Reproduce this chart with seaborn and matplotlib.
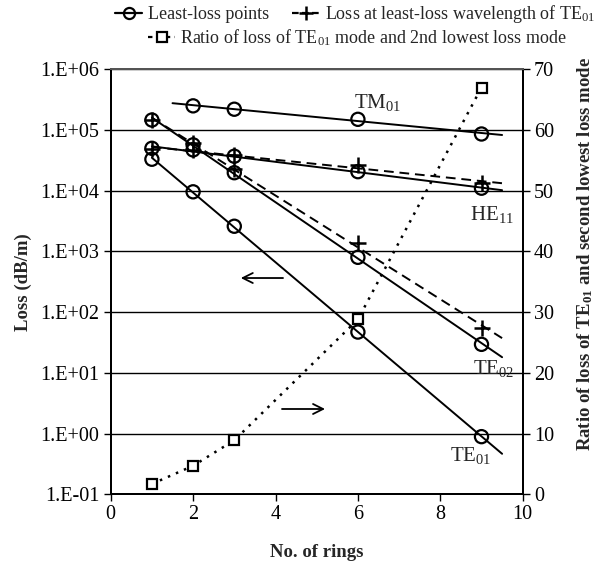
import numpy as np
import pandas as pd
import matplotlib
matplotlib.use("Agg")
import matplotlib.pyplot as plt
import seaborn as sns
from matplotlib.lines import Line2D
from matplotlib.ticker import FixedLocator, FixedFormatter, NullLocator

# ---------------- data ----------------
rings = [1, 2, 3, 6, 9]
tm01_rings = [2, 3, 6, 9]
tm01_loss = [2.5e5, 2.2e5, 1.5e5, 8.6e4]
he11_loss = [5.0e4, 4.7e4, 3.7e4, 2.06e4, 1.1e4]
te02_loss = [1.46e5, 5.7e4, 1.98e4, 800, 29.5]
te01_loss = [3.3e4, 9.6e3, 2.6e3, 47, 0.89]
te01wl_upper = [4.8e4, 4.6e4, 3.9e4, 2.65e4, 1.32e4]
te01wl_lower = [1.46e5, 6.0e4, 2.3e4, 1.36e3, 55]
ratio = [1.7, 4.7, 8.9, 28.8, 67.0]

left_ticks = [1e-1, 1e0, 1e1, 1e2, 1e3, 1e4, 1e5, 1e6]
left_labels = ["1.E-01", "1.E+00", "1.E+01", "1.E+02", "1.E+03", "1.E+04", "1.E+05", "1.E+06"]
right_ticks = [0, 10, 20, 30, 40, 50, 60, 70]
x_ticks = [0, 2, 4, 6, 8, 10]

# ---------------- style ----------------
sns.set_theme(style="ticks")
plt.rcParams["font.family"] = ["Liberation Serif", "DejaVu Serif"]
plt.rcParams["mathtext.fontset"] = "custom"
plt.rcParams["mathtext.rm"] = "Liberation Serif"
plt.rcParams["mathtext.it"] = "Liberation Serif"
plt.rcParams["mathtext.bf"] = "Liberation Serif:bold"

fig = plt.figure(figsize=(6.02, 5.61), dpi=100)
ax = fig.add_axes([110.7 / 602, 1 - 494.3 / 561, 412 / 602, 425 / 561])
ax2 = ax.twinx()


def trend(x, y, x0, x1):
    k, b = np.polyfit(x, np.log10(y), 1)
    xs = np.linspace(x0, x1, 60)
    return xs, 10 ** (k * xs + b)


# trendlines (solid) for least-loss points
for xs_, ys_, x0 in [(tm01_rings, tm01_loss, 1.5), (rings, he11_loss, 1.0),
                     (rings, te02_loss, 1.0), (rings, te01_loss, 1.0)]:
    tx, ty = trend(xs_, ys_, x0, 9.5)
    sns.lineplot(x=tx, y=ty, ax=ax, color="black", lw=1.4, estimator=None, sort=False)

# trendlines (dashed) for loss at least-loss wavelength of TE01
for ys_ in [te01wl_upper, te01wl_lower]:
    tx, ty = trend(rings, ys_, 1.0, 9.5)
    sns.lineplot(x=tx, y=ty, ax=ax, color="black", lw=1.4, estimator=None, sort=False,
                 linestyle=(0, (5, 3)))

# markers
circ = pd.DataFrame({
    "x": tm01_rings + rings * 3,
    "y": tm01_loss + he11_loss + te02_loss + te01_loss,
})
sns.scatterplot(data=circ, x="x", y="y", ax=ax, marker="o", s=90,
                facecolor="none", edgecolor="black", linewidth=1.6, zorder=5)
plus = pd.DataFrame({"x": rings * 2, "y": te01wl_upper + te01wl_lower})
sns.scatterplot(data=plus, x="x", y="y", ax=ax, marker="+", s=140,
                color="black", linewidth=1.8, zorder=6)

ax.set_yscale("log")
ax.set_ylim(1e-1, 1e6)
ax.set_xlim(0, 10)
ax.yaxis.set_major_locator(FixedLocator(left_ticks))
ax.yaxis.set_major_formatter(FixedFormatter(left_labels))
ax.yaxis.set_minor_locator(NullLocator())
ax.set_xticks(x_ticks)
ax.grid(axis="y", color="black", lw=1.0)
ax.set_axisbelow(True)

# ratio on right axis
rdf = pd.DataFrame({"x": rings, "r": ratio})
sns.lineplot(data=rdf, x="x", y="r", ax=ax2, color="black", lw=1.8,
             linestyle=(0, (1, 2.5)), marker="s", markersize=7,
             markerfacecolor="white", markeredgecolor="black", markeredgewidth=1.6)
ax2.set_ylim(0, 70)
ax2.set_yticks(right_ticks)

# tick styling
for a in (ax, ax2):
    a.tick_params(axis="both", labelsize=14.5, length=5, width=1.0, color="black",
                  direction="out", pad=3, labelcolor="black")
    for s in a.spines.values():
        s.set_color("black")
        s.set_linewidth(1.4)
ax.spines["top"].set_color("#555555")
ax2.spines["top"].set_color("#555555")

ax.set_xlabel("No. of rings", fontsize=13.5, fontweight="bold", labelpad=14)
ax.set_ylabel("Loss (dB/m)", fontsize=13.5, fontweight="bold", labelpad=6)
ax2.set_ylabel(r"Ratio of loss of TE$_{\mathbf{01}}$ and second lowest loss mode",
               fontsize=13.5, fontweight="bold")
ax2.yaxis.set_label_coords(1.128, 0.565)

# mode labels
ax.text(5.9, 2.8e5, r"TM$_{01}$", fontsize=15, ha="left", va="center")
ax.text(8.72, 4.0e3, r"HE$_{11}$", fontsize=15, ha="left", va="center")
ax.text(8.8, 12, r"TE$_{02}$", fontsize=15, ha="left", va="center")
ax.text(8.24, 0.44, r"TE$_{01}$", fontsize=15, ha="left", va="center")

# direction arrows
ax.annotate("", xy=(3.09, 365), xytext=(4.25, 365),
            arrowprops=dict(arrowstyle="->", color="black", lw=1.3, mutation_scale=18))
ax2.annotate("", xy=(5.27, 14.05), xytext=(4.09, 14.05),
             arrowprops=dict(arrowstyle="->", color="black", lw=1.3, mutation_scale=18))

# legend
h1 = Line2D([], [], color="black", lw=1.6, marker="o", mfc="none", mec="black", ms=8, mew=1.6)
h2 = Line2D([], [], color="black", lw=1.6, ls=(0, (3, 1.5)), marker="+", mec="black", ms=10, mew=1.8)
h3 = Line2D([], [], color="black", lw=1.6, ls=(0, (2, 2)), marker="s", mfc="white",
            mec="black", ms=7, mew=1.6)
fig.legend(handles=[h1, h2], labels=["Least-loss points",
                                      r"Loss at least-loss wavelength of TE$_{01}$"],
           loc="center left", bbox_to_anchor=(115 / 602, 1 - 14 / 561), ncol=2,
           frameon=False, fontsize=13, handlelength=1.5, handletextpad=0.3,
           columnspacing=1.3, borderpad=0, borderaxespad=0)
fig.legend(handles=[h3], labels=[r"Ratio of loss of TE$_{01}$ mode and 2nd lowest loss mode"],
           loc="center left", bbox_to_anchor=(148 / 602, 1 - 38 / 561), ncol=1,
           frameon=False, fontsize=13, handlelength=1.5, handletextpad=0.3,
           borderpad=0, borderaxespad=0)

fig.savefig("out.png", dpi=100)
